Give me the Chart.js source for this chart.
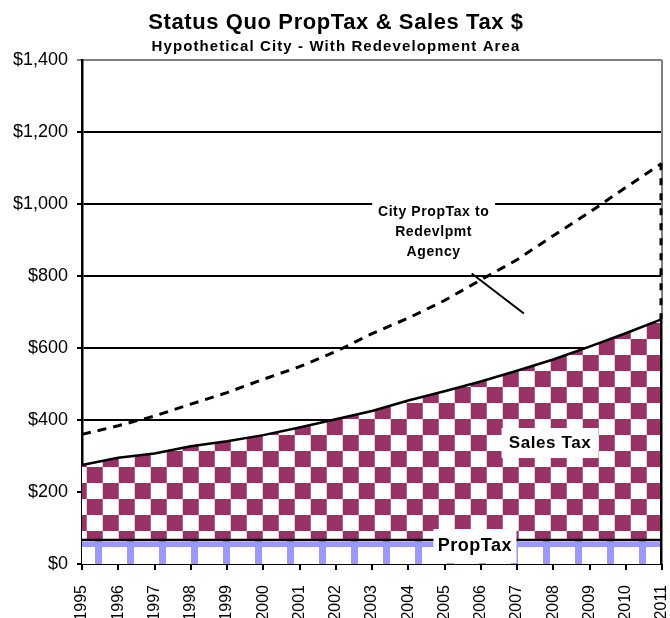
<!DOCTYPE html>
<html>
<head>
<meta charset="utf-8">
<script src="https://cdn.jsdelivr.net/npm/chart.js@4"></script>
<style>
  html, body { margin: 0; padding: 0; background: #fff; }
  #wrap { width: 670px; height: 618px; position: relative; }
</style>
</head>
<body>
<div id="wrap"><canvas id="taxChart" width="670" height="618"></canvas></div>
<script>
const years = ["1995","1996","1997","1998","1999","2000","2001","2002","2003",
               "2004","2005","2006","2007","2008","2009","2010","2011"];
// bottom layer
const propTax = [67,67,67,67,67,67,67,67,67,67,67,67,67,67,67,67,67];
// stacked on propTax (top edge = solid line)
const salesTax = [208,228,240,260,274,291,312,335,358,387,413,440,470,501,537,574,613];
// stacked on sales tax (top edge = dashed line)
const redevAgency = [85,89,104,117,135,155,169,188,215,229,252,282,308,344,373,405,433];
const yTicks = [0,200,400,600,800,1000,1200,1400];

const FONT = "'Liberation Sans', Arial, sans-serif";

function checkerPattern() {
  const c = document.createElement("canvas");
  c.width = 32; c.height = 32;
  const g = c.getContext("2d");
  g.fillStyle = "#fff"; g.fillRect(0, 0, 32, 32);
  g.fillStyle = "#993366";
  g.fillRect(0, 0, 16, 16);
  g.fillRect(16, 16, 16, 16);
  const p = g.createPattern(c, "repeat");
  p.setTransform(new DOMMatrix().translate(22.7, 19));
  return p;
}

function propTaxPattern() {
  const c = document.createElement("canvas");
  c.width = 32; c.height = 40;
  const g = c.getContext("2d");
  g.fillStyle = "#fff"; g.fillRect(0, 0, 32, 40);
  g.fillStyle = "#9999ff";
  g.fillRect(0, 0, 32, 5);
  g.fillRect(0, 0, 7, 40);
  const p = g.createPattern(c, "repeat");
  p.setTransform(new DOMMatrix().translate(95, 542));
  return p;
}

// titles, label boxes, plot border and the dashed closing edge
const extras = {
  id: "extras",
  afterDatasetsDraw(chart) {
    const ctx = chart.ctx;
    const xs = chart.scales.x, ys = chart.scales.y;
    const area = chart.chartArea;
    const n = years.length - 1;
    const top = propTax[n] + salesTax[n];
    const topDash = top + redevAgency[n];
    ctx.save();
    // gray plot border on the right
    ctx.strokeStyle = "#808080";
    ctx.lineWidth = 2;
    ctx.beginPath();
    ctx.moveTo(area.right, area.top);
    ctx.lineTo(area.right, area.bottom);
    ctx.stroke();

    // right edge of the agency area
    ctx.strokeStyle = "#000";
    ctx.lineWidth = 3;
    ctx.setLineDash([7, 8]);
    ctx.beginPath();
    ctx.moveTo(xs.getPixelForValue(n) - 1, ys.getPixelForValue(topDash));
    ctx.lineTo(xs.getPixelForValue(n) - 1, ys.getPixelForValue(top));
    ctx.stroke();
    ctx.setLineDash([]);
    // right edge of the sales tax area
    ctx.lineWidth = 2;
    ctx.beginPath();
    ctx.moveTo(xs.getPixelForValue(n) - 1, ys.getPixelForValue(top));
    ctx.lineTo(xs.getPixelForValue(n) - 1, ys.getPixelForValue(0));
    ctx.stroke();

    // leader line
    ctx.beginPath();
    ctx.moveTo(xs.getPixelForValue(10.75), ys.getPixelForValue(807));
    ctx.lineTo(xs.getPixelForValue(12.19), ys.getPixelForValue(696));
    ctx.stroke();

    function box(lines, xi, yv, w, h, size, lh, sp) {
      const cx = xs.getPixelForValue(xi), cy = ys.getPixelForValue(yv);
      ctx.fillStyle = "#fff";
      ctx.fillRect(cx - w / 2, cy - h / 2, w, h);
      ctx.fillStyle = "#000";
      ctx.font = "bold " + size + "px " + FONT;
      ctx.letterSpacing = sp + "px";
      ctx.textAlign = "center";
      ctx.textBaseline = "middle";
      lines.forEach((t, i) => {
        ctx.fillText(t, cx, cy + (i - (lines.length - 1) / 2) * lh);
      });
      ctx.letterSpacing = "0px";
    }
    box(["City PropTax to", "Redevlpmt", "Agency"], 9.70, 922, 123, 66, 14, 20, 0.6);
    box(["Sales Tax"], 12.91, 336, 97, 30, 17, 0, 0.6);
    box(["PropTax"], 10.84, 50, 83, 34, 18, 0, 0.5);

    // titles
    ctx.textAlign = "center";
    ctx.textBaseline = "alphabetic";
    ctx.font = "bold 22px " + FONT;
    ctx.letterSpacing = "0.6px";
    ctx.fillText("Status Quo PropTax & Sales Tax $", 336, 29);
    ctx.font = "bold 15px " + FONT;
    ctx.letterSpacing = "1.1px";
    ctx.fillText("Hypothetical City - With Redevelopment Area", 336, 51);
    ctx.restore();
  }
};

new Chart(document.getElementById("taxChart"), {
  type: "line",
  data: {
    labels: years,
    datasets: [
      {
        label: "PropTax",
        data: propTax,
        fill: "origin",
        backgroundColor: propTaxPattern(),
        borderColor: "#000",
        borderWidth: 2.5,
        pointRadius: 0,
        tension: 0
      },
      {
        label: "Sales Tax",
        data: salesTax,
        fill: "-1",
        backgroundColor: checkerPattern(),
        borderColor: "#000",
        borderWidth: 2.5,
        pointRadius: 0,
        tension: 0
      },
      {
        label: "City PropTax to Redevlpmt Agency",
        data: redevAgency,
        fill: false,
        borderColor: "#000",
        borderWidth: 3,
        borderDash: [9, 7],
        pointRadius: 0,
        tension: 0
      }
    ]
  },
  options: {
    responsive: false,
    animation: false,
    layout: { padding: { top: 60, right: 8, left: 0, bottom: 0 } },
    plugins: { legend: { display: false }, tooltip: { enabled: false }, title: { display: false } },
    scales: {
      x: {
        offset: false,
        grid: { drawOnChartArea: false, drawTicks: true, tickLength: 6, color: "#000", lineWidth: 2 },
        border: { color: "#000", width: 2 },
        ticks: { color: "#000", font: { family: FONT, size: 16 }, minRotation: 90, maxRotation: 90, padding: 15, autoSkip: false },
        afterFit: s => { s.height = 54; s.paddingLeft = 0; s.paddingRight = 0; }
      },
      y: {
        stacked: true,
        min: 0, max: 1400,
        afterBuildTicks: s => { s.ticks = yTicks.map(v => ({ value: v })); },
        grid: { color: c => (c.tick && c.tick.value === 1400 ? "#808080" : "#000"), lineWidth: 2, tickLength: 5 },
        border: { color: "#000", width: 2.5 },
        ticks: { color: "#000", font: { family: FONT, size: 18 }, padding: 9,
                 callback: v => "$" + v.toLocaleString("en-US") },
        afterFit: s => { s.width = 82; s.paddingTop = 0; s.paddingBottom = 0; }
      }
    }
  },
  plugins: [extras]
});
</script>
</body>
</html>
